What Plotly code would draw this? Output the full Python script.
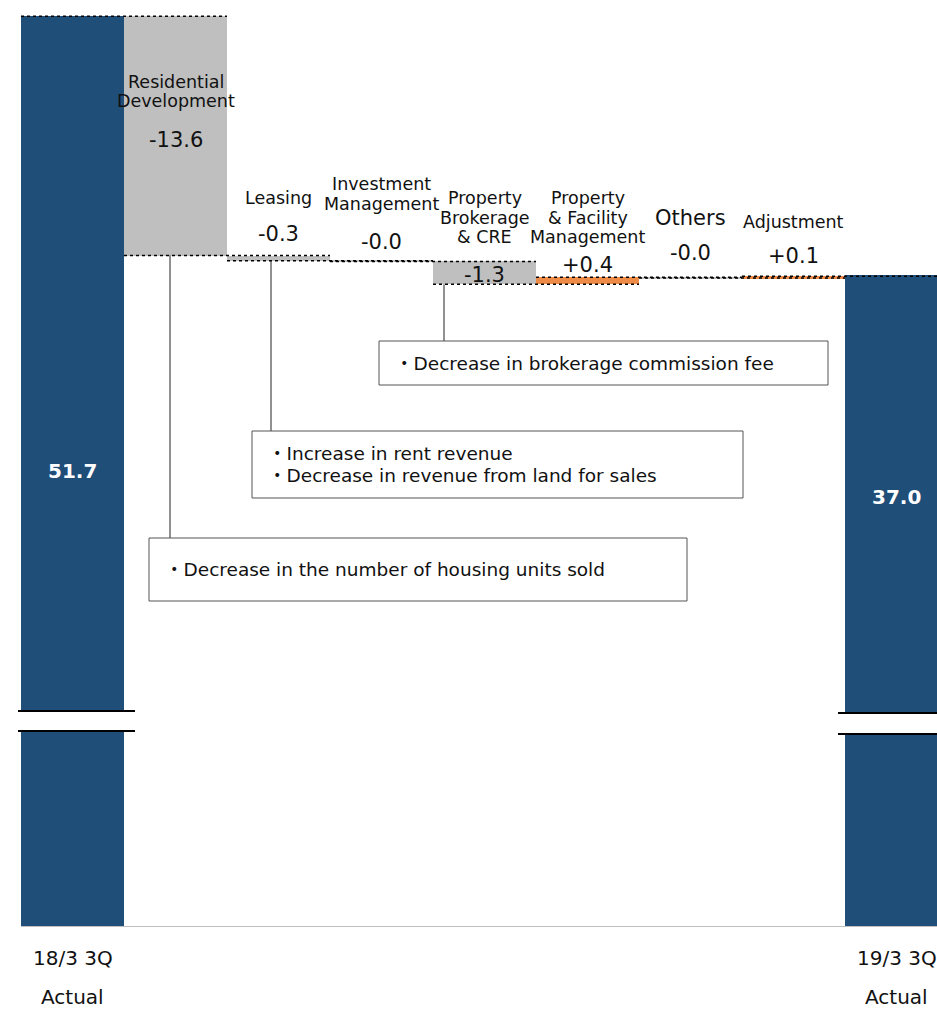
import plotly.graph_objects as go

# ---- data -------------------------------------------------------------
start_label = "18/3 3Q<br>Actual"
end_label = "19/3 3Q<br>Actual"
start_value = 51.7
end_value = 37.0

segments = ["Residential<br>Development", "Leasing", "Investment<br>Management",
            "Property<br>Brokerage<br>& CRE", "Property<br>& Facility<br>Management",
            "Others", "Adjustment"]
changes = [-13.6, -0.3, -0.04, -1.3, 0.4, -0.04, 0.1]

notes = [
    "・Decrease in the number of housing units sold",
    "・Increase in rent revenue<br>・Decrease in revenue from land for sales",
    "・Decrease in brokerage commission fee",
]

# ---- styling ------------------------------------------------------------
NAVY = "#1F4E79"
GRAY = "#BFBFBF"
ORANGE = "#EE8C47"
FONT = "DejaVu Sans, Noto Sans CJK JP, sans-serif"
TXT = "#111111"

W, H = 937, 1011
L, R, T, B = 21, 0, 10, 85
PW, PH = W - L - R, H - T - B
YMAX = 52.05
XMIN = -0.5
XMAX = XMIN + PW / 103.0


def xp(px):
    return (px - L) / PW


def yp(py):
    return (H - B - py) / PH


def val_of_py(py):
    return (H - B - py) / PH * YMAX


# running totals
levels = [start_value]
for c in changes:
    levels.append(levels[-1] + c)

n = len(segments) + 2
xs = list(range(n))
bases = [0]
heights = [start_value]
colors = [NAVY]
for i, c in enumerate(changes):
    lo = min(levels[i], levels[i + 1])
    bases.append(lo)
    heights.append(abs(c))
    colors.append(GRAY if c < 0 else ORANGE)
bases.append(0)
heights.append(end_value)
colors.append(NAVY)

fig = go.Figure()
fig.add_trace(go.Bar(
    x=xs, y=heights, base=bases, width=1.0,
    marker=dict(color=colors, line=dict(width=0)),
    hoverinfo="skip", showlegend=False,
))

shapes = []
# dotted connectors at each running level
for i, lv in enumerate(levels):
    shapes.append(dict(type="line", xref="x", yref="y", x0=i - 0.5, x1=i + 1.5,
                       y0=lv, y1=lv, line=dict(color="black", width=1.5, dash="dot")))

annotations = []
# totals written on the navy bars (offset in px below the bar top)
for x, v, off in [(0, start_value, 455), (n - 1, end_value, 222)]:
    annotations.append(dict(x=x, y=v, xref="x", yref="y", text=f"<b>{v:.1f}</b>",
                            showarrow=False, yshift=-off, yanchor="middle",
                            font=dict(family=FONT, size=20, color="white")))

# segment names and values (offsets in px relative to the bar top)
name_offsets = [85, -58, -57, -24, -40, -59, -54]
value_offsets = [124, -22, -19, 14, -12, -24, -20]
name_sizes = [17.5, 17.5, 17.5, 17.5, 17.5, 21, 17.5]
line_gap = 19.5
for k, (name, c) in enumerate(zip(segments, changes)):
    i = k + 1
    top = max(levels[k], levels[k + 1])
    lines = name.split("<br>")
    for j, ln in enumerate(lines):
        shift = name_offsets[k] - (len(lines) - 1 - j) * line_gap
        annotations.append(dict(x=i, y=top, xref="x", yref="y", text=ln, showarrow=False,
                                yshift=-shift, yanchor="middle",
                                font=dict(family=FONT, size=name_sizes[k], color=TXT)))
    annotations.append(dict(x=i, y=top, xref="x", yref="y", text=f"{c:+.1f}", showarrow=False,
                            yshift=-value_offsets[k], yanchor="middle",
                            font=dict(family=FONT, size=21, color=TXT)))

# category labels below the axis
for x, lab in [(0, start_label), (n - 1, end_label)]:
    top_line, bottom_line = lab.split("<br>")
    annotations.append(dict(x=x, y=yp(958), xref="x", yref="paper", text=top_line,
                            showarrow=False, yanchor="middle",
                            font=dict(family=FONT, size=20, color=TXT)))
    annotations.append(dict(x=x, y=yp(997), xref="x", yref="paper", text=bottom_line,
                            showarrow=False, yanchor="middle",
                            font=dict(family=FONT, size=20, color=TXT)))

# note boxes with leader lines: (note, box px, leader x px, bar index)
boxes = [
    (notes[0], (149, 538, 687, 601), 170, 1),
    (notes[1], (252, 431, 743, 498), 271, 2),
    (notes[2], (379, 341, 828, 385), 444, 4),
]
note_gap = 22
for text, (x0, y0, x1, y1), lead_x, bar_i in boxes:
    bottom_val = min(levels[bar_i - 1], levels[bar_i])
    shapes.append(dict(type="line", xref="paper", yref="y", x0=xp(lead_x), x1=xp(lead_x),
                       y0=bottom_val, y1=val_of_py(y0), line=dict(color="#222222", width=1)))
    shapes.append(dict(type="rect", xref="paper", yref="paper", x0=xp(x0), x1=xp(x1),
                       y0=yp(y1), y1=yp(y0), fillcolor="white",
                       line=dict(color="#555555", width=1)))
    lines = text.split("<br>")
    first = (y0 + y1) / 2 - (len(lines) - 1) * note_gap / 2
    for j, ln in enumerate(lines):
        annotations.append(dict(x=xp(x0 + 14), y=yp(first + j * note_gap), xref="paper",
                                yref="paper", text=ln, showarrow=False, xanchor="left",
                                yanchor="middle", align="left",
                                font=dict(family=FONT, size=18.5, color=TXT)))

# axis break marks on the two total bars
for (bx0, bx1, ya, yb) in [(18, 135, 711, 731), (838, 937, 713, 734)]:
    shapes.append(dict(type="rect", xref="paper", yref="paper", x0=xp(bx0), x1=xp(bx1),
                       y0=yp(yb), y1=yp(ya), fillcolor="white", line=dict(width=0)))
    for yy in (ya, yb):
        shapes.append(dict(type="line", xref="paper", yref="paper", x0=xp(bx0), x1=xp(bx1),
                           y0=yp(yy), y1=yp(yy), line=dict(color="black", width=2)))

fig.update_layout(
    width=W, height=H,
    margin=dict(l=L, r=R, t=T, b=B),
    paper_bgcolor="white", plot_bgcolor="white",
    bargap=0,
    xaxis=dict(range=[XMIN, XMAX], showticklabels=False, ticks="", showgrid=False,
               zeroline=False, showline=True, linecolor="#BFBFBF", linewidth=1),
    yaxis=dict(range=[0, YMAX], visible=False, showgrid=False, zeroline=False),
    shapes=shapes,
    annotations=annotations,
    font=dict(family=FONT),
)

fig.write_html("out.html")
